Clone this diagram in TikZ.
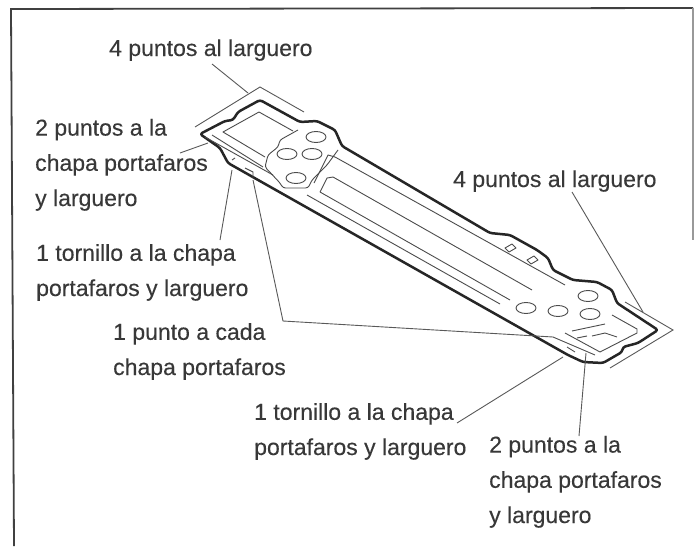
\documentclass[tikz,border=0pt]{standalone}
\usepackage{fontspec}
\usetikzlibrary{shapes.geometric}
\setmainfont{Liberation Sans}
\newfontfamily\labfont{Liberation Sans}[FakeBold=0.25]
\begin{document}
\begin{tikzpicture}[x=1pt,y=-1pt,
  lab/.style={inner sep=0pt,anchor=base west,align=left,text=black!78,font=\labfont\fontsize{23}{35.2}\selectfont},
  heavy/.style={draw=black!85,line width=2.5pt,line join=round,rounded corners=2.5pt},
  thin part/.style={draw=black!70,line width=0.9pt,line join=round},
  blob/.style={thin part,rounded corners=2.5pt},
  leader/.style={draw=black!65,line width=0.9pt},
  hole/.style={draw=black!70,line width=0.9pt,ellipse,minimum width=20pt,minimum height=11pt,inner sep=0pt}]
\useasboundingbox (0,0) rectangle (695,546);
\fill[white] (0,0) rectangle (695,546);
\draw[black!75,line width=1.8pt] (14,546) -- (11,9) -- (693,8);
\draw[black!40,line width=1.2pt] (693,8) -- (693,240);
% plate
\draw[heavy] (200,134) -- (225,121) -- (233,120) -- (238,112) -- (260,100) -- (300,122) -- (317,121) -- (335,130) -- (342,146) -- (490,233) -- (510,235) -- (537,250) -- (548,258) -- (553,270) -- (573,280) -- (597,282) -- (612,290) -- (617,303) -- (658,330) -- (638,343) -- (623,347) -- (622,352) -- (603,363) -- (583,362) -- (568,355) -- (228,163) -- (220,148) -- cycle;
% blob
\draw[blob] (298,130) -- (280,140) -- (278,147) -- (268,155) -- (265,167) -- (280,183) -- (283,188) -- (308,188) -- (312,180) -- (327,165) -- (338,150);
\node[hole] (h1) at (316,137) {};
\node[hole] (h2) at (287,154) {};
\node[hole] (h3) at (312,154) {};
\node[hole] (h4) at (296,178) {};
% inner
\draw[thin part] (265,157) -- (223,132) -- (259,112) -- (293,131);
\draw[thin part] (212,135) -- (263,167);
\draw[thin part] (205,137) -- (273,175);
\draw[thin part] (232,160) -- (235,158) (245,168) -- (253,172) -- (253,178);
\draw[thin part] (314,183) -- (328,155) -- (335,157) -- (565,285);
\draw[thin part] (320,192) -- (327,178) -- (333,177) -- (532,290);
\draw[thin part] (320,192) -- (510,300);
\draw[thin part] (307,195) -- (500,304);
\draw[thin part] (505,248) -- (512,244) -- (516,248) -- (509,252) -- cycle;
\draw[thin part] (527,260) -- (534,256) -- (538,260) -- (531,264) -- cycle;
\node[hole] (h5) at (588,296) {};
\node[hole] (h6) at (526,308) {};
\node[hole] (h7) at (558,311) {};
\node[hole] (h8) at (590,314) {};
\draw[thin part] (612,315) -- (637,329) -- (637,333) -- (600,352) -- (565,333);
\draw[thin part] (572,331) -- (605,324);
\draw[thin part] (577,338) -- (587,336) (592,336) -- (605,333) -- (617,337);
\draw[thin part] (553,337) -- (595,355);
\draw[thin part] (567,347) -- (575,352);
% brackets
\draw[leader] (195,127) -- (260,87) -- (304,112);
\draw[leader] (625,302) -- (673,330) -- (610,368);
% labels
\node[lab] (a) at (109,56) {4 puntos al larguero};
\node[lab] (b) at (35,206) {2 puntos a la\\chapa portafaros\\y larguero};
\node[lab] (c) at (36,296) {1 tornillo a la chapa\\portafaros y larguero};
\node[lab] (d) at (113,375) {1 punto a cada\\chapa portafaros};
\node[lab] (e) at (254,455) {1 tornillo a la chapa\\portafaros y larguero};
\node[lab] (f) at (489,523) {2 puntos a la\\chapa portafaros\\y larguero};
\node[lab] (g) at (453,187) {4 puntos al larguero};
% leader ends
\coordinate (a1) at (212,64);
\coordinate (a2) at (248,93);
\coordinate (b1) at (180,153);
\coordinate (b2) at (208,143);
\coordinate (c1) at (220,240);
\coordinate (c2) at (232,170);
\coordinate (d0) at (283,321);
\coordinate (d1) at (253,180);
\coordinate (d2) at (553,337);
\coordinate (e1) at (457,423);
\coordinate (e2) at (563,357);
\coordinate (f1) at (579,436);
\coordinate (f2) at (586,353);
\coordinate (g1) at (572,192);
\coordinate (g2) at (643,312);
\draw[leader] (a1) -- (a2);
\draw[leader] (b1) -- (b2);
\draw[leader] (c1) -- (c2);
\draw[leader] (d1) -- (d0) -- (d2);
\draw[leader] (e1) -- (e2);
\draw[leader] (f1) -- (f2);
\draw[leader] (g1) -- (g2);
\end{tikzpicture}
\end{document}
